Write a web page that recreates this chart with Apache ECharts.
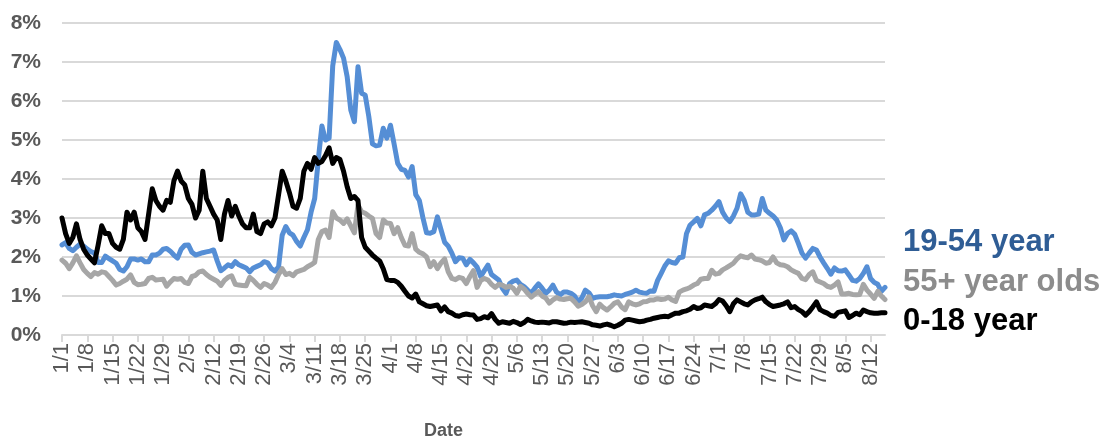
<!DOCTYPE html>
<html>
<head>
<meta charset="utf-8">
<script src="https://cdn.jsdelivr.net/npm/echarts@6/dist/echarts.min.js"></script>
<style>
html,body{margin:0;padding:0;background:#fff;}
#chart{width:1111px;height:443px;}
</style>
</head>
<body>
<div id="chart"></div>
<script>
// Month lengths for 2020 (leap year) used to build daily category labels 1/1 .. 8/16
const monthLengths = [31, 29, 31, 30, 31, 30, 31, 31];
const startMonth = 1, endMonth = 8, endDay = 16;

const seriesNames = ['19-54 year', '55+ year olds', '0-18 year'];
const yTicks = [0, 1, 2, 3, 4, 5, 6, 7, 8];

// 0-18 year (percent)
const age0to18 = [
3.0,2.6,2.35,2.5,2.85,2.45,2.2,2.05,1.95,1.85,
2.3,2.8,2.6,2.6,2.35,2.25,2.2,2.45,3.15,2.95,
3.15,2.75,2.65,2.45,3.1,3.75,3.45,3.3,3.2,3.45,
3.4,3.95,4.2,3.95,3.85,3.5,3.35,3.0,3.2,4.2,
3.5,3.3,3.1,2.95,2.45,3.1,3.45,3.05,3.3,3.05,
2.85,2.75,2.75,3.1,2.65,2.6,2.85,2.9,2.8,3.0,
3.6,4.2,3.95,3.65,3.3,3.25,3.5,4.2,4.4,4.25,
4.55,4.4,4.45,4.6,4.8,4.4,4.55,4.5,4.2,3.8,
3.5,3.55,3.45,2.5,2.25,2.15,2.05,1.97,1.9,1.7,
1.42,1.4,1.4,1.35,1.25,1.12,1.0,0.95,1.05,0.85,
0.8,0.75,0.73,0.75,0.77,0.62,0.72,0.6,0.56,0.5,
0.48,0.52,0.54,0.52,0.51,0.4,0.42,0.47,0.44,0.55,
0.4,0.3,0.34,0.32,0.3,0.35,0.32,0.27,0.32,0.4,
0.36,0.33,0.32,0.33,0.32,0.31,0.34,0.34,0.32,0.3,
0.31,0.33,0.32,0.33,0.34,0.32,0.3,0.26,0.25,0.23,
0.26,0.28,0.25,0.21,0.25,0.3,0.38,0.4,0.38,0.36,
0.34,0.35,0.38,0.4,0.43,0.45,0.47,0.48,0.47,0.52,
0.56,0.56,0.6,0.62,0.66,0.73,0.68,0.7,0.77,0.75,
0.73,0.8,0.91,0.87,0.75,0.6,0.8,0.9,0.85,0.8,
0.77,0.85,0.9,0.93,0.97,0.85,0.78,0.73,0.75,0.77,
0.8,0.85,0.7,0.73,0.65,0.6,0.51,0.6,0.72,0.85,
0.65,0.6,0.56,0.5,0.48,0.58,0.6,0.62,0.45,0.5,
0.56,0.52,0.64,0.6,0.57,0.56,0.56,0.57,0.57
];

// 19-54 year (percent)
const age19to54 = [
2.31,2.37,2.22,2.16,2.25,2.33,2.28,2.2,2.14,2.1,
1.86,1.86,2.02,1.96,1.9,1.84,1.68,1.64,1.75,1.95,
1.95,1.92,1.95,1.88,1.88,2.05,2.05,2.1,2.2,2.22,
2.15,2.05,1.97,2.2,2.3,2.31,2.12,2.05,2.08,2.11,
2.13,2.15,2.18,1.9,1.65,1.72,1.8,1.76,1.88,1.8,
1.76,1.72,1.62,1.72,1.76,1.8,1.88,1.85,1.7,1.64,
1.75,2.56,2.78,2.62,2.56,2.4,2.28,2.5,2.7,3.15,
3.5,4.5,5.36,5.0,5.05,6.9,7.5,7.32,7.1,6.62,
5.77,5.47,6.88,6.2,6.15,5.6,4.9,4.85,4.87,5.3,
5.05,5.38,4.9,4.4,4.25,4.22,4.05,4.32,3.6,3.45,
3.0,2.62,2.61,2.65,3.03,2.7,2.38,2.28,2.1,1.88,
1.98,1.97,1.8,1.94,1.85,1.74,1.5,1.65,1.79,1.55,
1.48,1.41,1.2,1.07,1.32,1.38,1.41,1.3,1.24,1.15,
1.07,1.2,1.31,1.2,1.07,1.15,1.28,1.1,1.03,1.1,
1.1,1.07,1.0,0.85,0.95,1.15,1.08,0.94,0.97,0.98,
0.98,0.98,1.0,1.03,1.01,1.0,1.04,1.07,1.1,1.15,
1.1,1.08,1.07,1.13,1.12,1.4,1.58,1.77,1.9,1.86,
1.84,1.98,2.0,2.6,2.82,2.9,2.99,2.8,3.08,3.12,
3.2,3.3,3.42,3.15,3.0,2.91,3.05,3.25,3.62,3.45,
3.15,3.08,3.08,3.1,3.5,3.2,3.12,3.05,2.95,2.75,
2.44,2.6,2.67,2.58,2.35,2.1,1.97,2.1,2.22,2.18,
2.0,1.85,1.71,1.56,1.72,1.65,1.64,1.67,1.54,1.4,
1.38,1.45,1.58,1.75,1.45,1.35,1.3,1.12,1.22
];

// 55+ year olds (percent)
const age55plus = [
1.92,1.84,1.7,1.85,2.03,1.85,1.68,1.58,1.5,1.6,
1.56,1.62,1.6,1.5,1.4,1.28,1.32,1.38,1.43,1.54,
1.35,1.29,1.3,1.32,1.45,1.48,1.41,1.42,1.43,1.25,
1.36,1.45,1.43,1.45,1.35,1.32,1.5,1.53,1.62,1.64,
1.55,1.48,1.43,1.38,1.27,1.4,1.48,1.52,1.3,1.28,
1.27,1.26,1.48,1.4,1.3,1.22,1.32,1.28,1.22,1.35,
1.55,1.7,1.55,1.58,1.52,1.62,1.65,1.68,1.75,1.8,
1.86,2.45,2.65,2.69,2.5,3.16,3.0,2.95,2.86,2.98,
2.8,2.62,3.33,3.16,3.12,3.05,2.99,2.6,2.5,2.95,
2.87,2.86,2.6,2.75,2.5,2.3,2.28,2.6,2.2,2.12,
2.08,2.0,1.75,1.88,1.7,1.85,1.95,1.62,1.45,1.42,
1.48,1.45,1.32,1.5,1.65,1.22,1.4,1.45,1.41,1.3,
1.22,1.3,1.28,1.22,1.25,1.2,1.07,1.25,1.18,1.07,
0.97,1.05,1.11,1.0,0.95,0.82,0.9,0.96,0.92,0.91,
0.93,0.94,0.85,0.74,0.78,0.85,0.98,0.75,0.6,0.79,
0.7,0.64,0.72,0.81,0.85,0.72,0.65,0.85,0.8,0.77,
0.8,0.85,0.86,0.9,0.9,0.93,0.91,0.92,0.97,0.9,
0.86,1.1,1.15,1.18,1.22,1.28,1.32,1.43,1.45,1.45,
1.66,1.56,1.58,1.67,1.72,1.78,1.84,1.95,2.03,2.0,
1.98,2.05,1.95,1.93,1.9,1.84,1.86,2.0,1.85,1.8,
1.79,1.75,1.67,1.62,1.58,1.45,1.42,1.55,1.62,1.4,
1.36,1.32,1.25,1.22,1.28,1.36,1.05,1.05,1.07,1.04,
1.03,1.04,1.3,1.15,1.05,0.94,1.12,1.0,0.91
];

// Build the daily category labels (M/D)
const categories = [];
for (let m = startMonth; m <= endMonth; m++) {
  const last = (m === endMonth) ? endDay : monthLengths[m - 1];
  for (let d = 1; d <= last; d++) categories.push(m + '/' + d);
}

const chart = echarts.init(document.getElementById('chart'), null, {renderer: 'canvas'});

const gridLeft = 62, gridRight = 226, gridTop = 23, gridBottom = 108;

const option = {
  animation: false,
  backgroundColor: '#ffffff',
  grid: {left: gridLeft, right: gridRight, top: gridTop, bottom: gridBottom, containLabel: false},
  xAxis: {
    type: 'category',
    data: categories,
    boundaryGap: false,
    axisLine: {show: true, lineStyle: {color: '#d9d9d9', width: 2}},
    axisTick: {show: true, interval: 6, length: 7, lineStyle: {color: '#d9d9d9', width: 2}},
    axisLabel: {
      interval: 6, rotate: 90, margin: 8,
      color: '#595959', fontSize: 22,
      fontFamily: '"Liberation Sans", Arial, sans-serif'
    },
    splitLine: {show: false}
  },
  yAxis: {
    type: 'value',
    min: yTicks[0], max: yTicks[yTicks.length - 1], interval: 1,
    axisLine: {show: false},
    axisTick: {show: false},
    splitLine: {show: true, lineStyle: {color: '#d9d9d9', width: 2}},
    axisLabel: {
      formatter: function (v) { return v + '%'; },
      margin: 21,
      color: '#595959', fontSize: 21, fontWeight: 'bold',
      fontFamily: '"Liberation Sans", Arial, sans-serif'
    }
  },
  series: [
    {
      name: seriesNames[0], type: 'line', data: age19to54, showSymbol: false, symbol: 'none',
      lineStyle: {color: '#558ED5', width: 5, cap: 'round', join: 'round'}, z: 2
    },
    {
      name: seriesNames[1], type: 'line', data: age55plus, showSymbol: false, symbol: 'none',
      lineStyle: {color: '#A6A6A6', width: 5, cap: 'round', join: 'round'}, z: 3
    },
    {
      name: seriesNames[2], type: 'line', data: age0to18, showSymbol: false, symbol: 'none',
      lineStyle: {color: '#000000', width: 5, cap: 'round', join: 'round'}, z: 4
    }
  ],
  graphic: [
    {type: 'text', left: 903, top: 227, style: {text: seriesNames[0], fill: '#2F5D95', font: 'bold 31px "Liberation Sans", Arial, sans-serif'}},
    {type: 'text', left: 903, top: 267, style: {text: seriesNames[1], fill: '#8C8C8C', font: 'bold 31px "Liberation Sans", Arial, sans-serif'}},
    {type: 'text', left: 903, top: 306, style: {text: seriesNames[2], fill: '#000000', font: 'bold 31px "Liberation Sans", Arial, sans-serif'}},
    {type: 'text', left: 424, top: 422, style: {text: 'Date', fill: '#595959', font: 'bold 18px "Liberation Sans", Arial, sans-serif'}}
  ]
};

chart.setOption(option);
</script>
</body>
</html>
